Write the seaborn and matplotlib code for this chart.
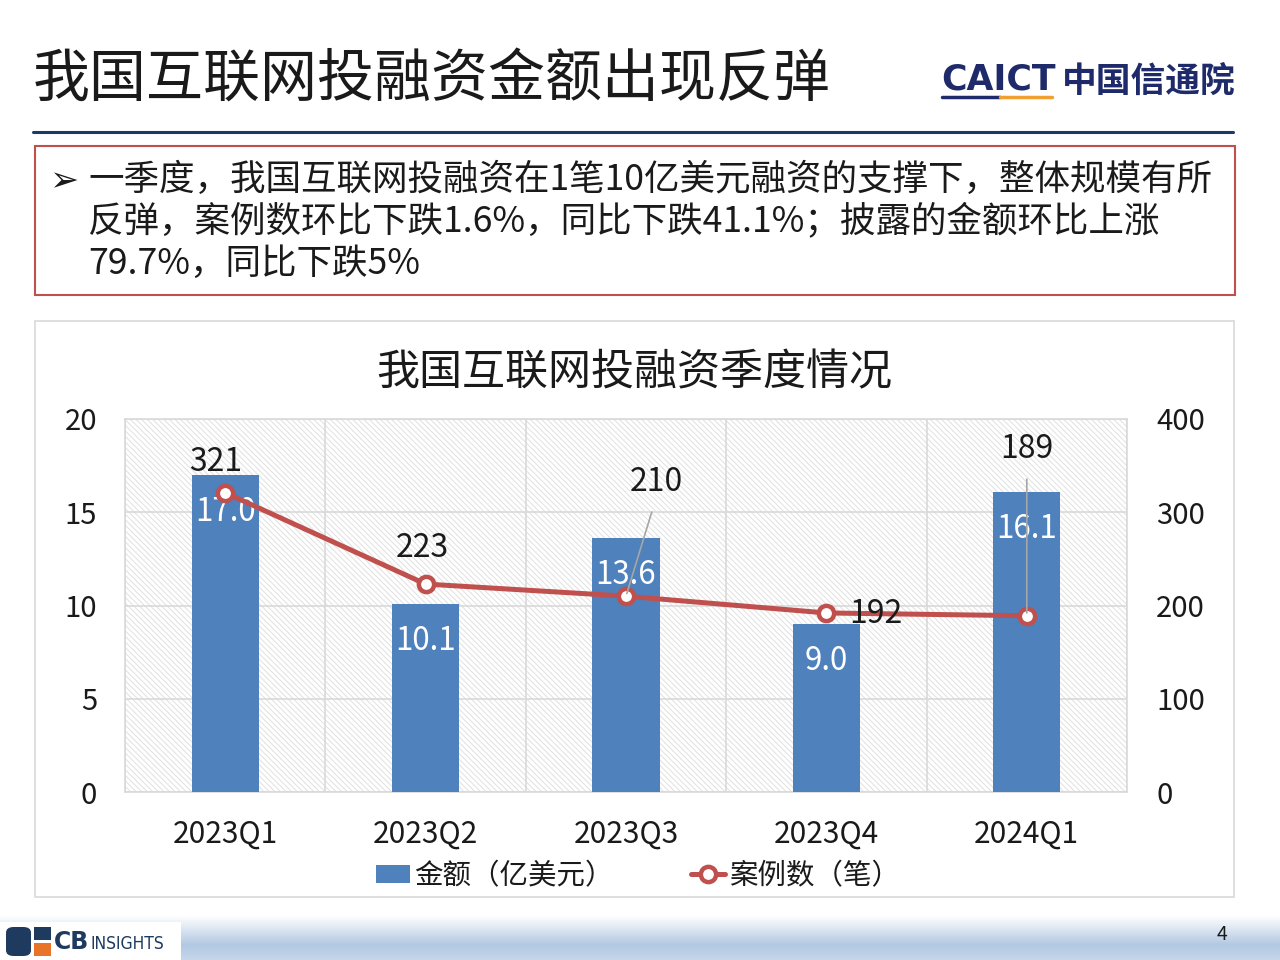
import numpy as np
import pandas as pd
import matplotlib
matplotlib.use('Agg')
import matplotlib.pyplot as plt
import seaborn as sns
from matplotlib.patches import Rectangle, FancyBboxPatch
from matplotlib.lines import Line2D
from matplotlib.colors import LinearSegmentedColormap

# ---------------- data ----------------
quarters = ['2023Q1', '2023Q2', '2023Q3', '2023Q4', '2024Q1']
amount = [17.0, 10.1, 13.6, 9.0, 16.1]          # 金额（亿美元）
deals = [321, 223, 210, 192, 189]               # 案例数（笔）
left_ticks = [0, 5, 10, 15, 20]
right_ticks = [0, 100, 200, 300, 400]

slide_title = '我国互联网投融资金额出现反弹'
chart_title = '我国互联网投融资季度情况'
bullet_lines = ['一季度，我国互联网投融资在1笔10亿美元融资的支撑下，整体规模有所',
                '反弹，案例数环比下跌1.6%，同比下跌41.1%；披露的金额环比上涨',
                '79.7%，同比下跌5%']
legend_labels = ['金额（亿美元）', '案例数（笔）']

BAR_C = '#4F81BD'
LINE_C = '#C0504D'
GRID_C = '#D9D9D9'

sns.set_theme(style='white')
plt.rcParams['font.family'] = ['Noto Sans CJK SC', 'DejaVu Sans']
plt.rcParams['hatch.linewidth'] = 0.7
plt.rcParams['hatch.color'] = '#E3E3E3'

W, H = 1280, 960
fig = plt.figure(figsize=(12.8, 9.6), dpi=100)
fig.patch.set_facecolor('white')


def fx(px):
    return px / W


def fy(py):
    return 1 - py / H


# ---------------- slide header ----------------
fig.text(fx(33), fy(80), slide_title, fontsize=41, ha='left', va='center', color='#1A1A1A')
fig.add_artist(Line2D([fx(33), fx(1233)], [fy(132), fy(132)], color='#1F3864', lw=2.2))

# CAICT logo
fig.text(fx(941), fy(80), 'CAICT', fontsize=25, fontweight='bold',
         ha='left', va='center', color='#1F2A6B', family=['DejaVu Sans'])
fig.add_artist(Line2D([fx(942), fx(1000)], [fy(97), fy(97)], color='#1F2A6B', lw=2.5))
fig.add_artist(Line2D([fx(1000), fx(1052)], [fy(97), fy(97)], color='#F0A030', lw=2.5))
fig.text(fx(1062), fy(81), '中国信通院', fontsize=25, fontweight='bold', ha='left', va='center',
         color='#1F2A6B')

# bullet box
fig.add_artist(Rectangle((fx(35), fy(295)), fx(1235) - fx(35), fy(146) - fy(295),
                         transform=fig.transFigure, facecolor='none', edgecolor=LINE_C, lw=1.5,
                         zorder=-1))
fig.text(fx(49), fy(181), '➢', fontsize=25, ha='left', va='center', color='#1A1A1A',
         family=['DejaVu Sans'])
for line, yy in zip(bullet_lines, [180, 221, 264]):
    fig.text(fx(88), fy(yy), line, fontsize=25.6, ha='left', va='center', color='#1A1A1A')

# chart frame
fig.add_artist(Rectangle((fx(35), fy(897)), fx(1234) - fx(35), fy(321) - fy(897),
                         transform=fig.transFigure, facecolor='none', edgecolor=GRID_C, lw=1.2,
                         zorder=-1))
fig.text(fx(634), fy(373), chart_title, fontsize=31, ha='center', va='center', color='#1A1A1A')

# ---------------- chart ----------------
ax = fig.add_axes([fx(125), fy(792), fx(1127) - fx(125), fy(419) - fy(792)])
ax.set_facecolor('white')
ax.add_patch(Rectangle((0, 0), 1, 1, transform=ax.transAxes, facecolor='white',
                       edgecolor='#E0E0E0', hatch='\\\\\\\\\\\\', lw=0, zorder=0))

df = pd.DataFrame({'quarter': quarters, 'amount': amount, 'deals': deals})
sns.barplot(data=df, x='quarter', y='amount', color=BAR_C, saturation=1, width=0.335,
            ax=ax, zorder=3, edgecolor='none')
ax.set_xlim(-0.5, 4.5)
ax.set_ylim(0, 20)
ax.set_yticks(left_ticks)
ax.set_yticklabels([str(t) for t in left_ticks])
ax.set_xlabel('')
ax.set_ylabel('')
for x in np.arange(-0.5, 5, 1.0):
    ax.axvline(x, color=GRID_C, lw=1.2, zorder=1)
for y in left_ticks:
    ax.axhline(y, color=GRID_C, lw=1.2, zorder=1)
for s in ax.spines.values():
    s.set_color(GRID_C)
    s.set_linewidth(1.2)
ax.tick_params(axis='both', length=0, colors='#1A1A1A')
ax.tick_params(axis='y', pad=20, labelsize=21)
ax.tick_params(axis='x', pad=19, labelsize=21.5)

# bar labels (white, inside top)
for i, v in enumerate(amount):
    ax.annotate(f'{v:.1f}', xy=(i, v), xytext=(0, -37), textcoords='offset pixels',
                ha='center', va='center', fontsize=22.5, color='white', zorder=6)

ax2 = ax.twinx()
ax2.set_ylim(0, 400)
sns.lineplot(data=df, x='quarter', y='deals', ax=ax2, color=LINE_C, lw=3.6, marker='o',
             markersize=11, markerfacecolor='white', markeredgecolor=LINE_C,
             markeredgewidth=3.2, zorder=5, sort=False)
ax2.set_xlim(-0.5, 4.5)
ax2.set_ylim(0, 400)
ax2.set_yticks(right_ticks)
ax2.set_yticklabels([str(t) for t in right_ticks])
ax2.set_xlabel('')
ax2.set_ylabel('')
for s in ax2.spines.values():
    s.set_visible(False)
ax2.tick_params(axis='y', length=0, labelsize=21, colors='#1A1A1A', pad=21)
ax2.grid(False)

# line labels
offsets = [(-9, 31), (-3, 36), (30, 114), (49, -1), (0, 167)]
leaders = [False, False, True, False, True]
for i, (v, off, ld) in enumerate(zip(deals, offsets, leaders)):
    kw = {}
    if ld:
        kw['arrowprops'] = dict(arrowstyle='-', color='#A6A6A6', lw=1.2,
                                shrinkA=8, shrinkB=2, relpos=(0.5, 0.0))
    ax2.annotate(str(v), xy=(i, v), xytext=off, textcoords='offset pixels',
                 ha='center', va='center', fontsize=23, color='#1A1A1A', zorder=7, **kw)

# legend
handles = [Rectangle((0, 0), 1, 1, facecolor=BAR_C, edgecolor='none'),
           Line2D([0], [0], color=LINE_C, lw=3.6, marker='o', markersize=11,
                  markerfacecolor='white', markeredgecolor=LINE_C, markeredgewidth=3.2)]
fig.legend(handles, legend_labels, loc='center', bbox_to_anchor=(fx(638), fy(876)), ncol=2,
           frameon=False, fontsize=20.5, handlelength=1.2, handleheight=0.6, handletextpad=0.15,
           columnspacing=2.7, labelcolor='#1A1A1A')

# ---------------- footer ----------------
fax = fig.add_axes([0, 0, 1, fy(915)])
grad = np.concatenate([np.linspace(0, 1, 30), np.linspace(1, 0.75, 15)])[:, None]
cmap = LinearSegmentedColormap.from_list('ft', ['#FFFFFF', '#B3C9E3'])
fax.imshow(np.repeat(grad, 10, axis=1), aspect='auto', cmap=cmap, extent=(0, 1, 0, 1),
           vmin=0, vmax=1)
fax.set_xlim(0, 1)
fax.set_ylim(0, 1)
fax.axis('off')
fax.add_patch(Rectangle((0, 0), 181 / W, 38 / 45, facecolor='white', edgecolor='none'))
# CB Insights logo
fig.add_artist(FancyBboxPatch((fx(6), fy(956)), fx(31) - fx(6), fy(927) - fy(956),
                              boxstyle='round,pad=0,rounding_size=0.006',
                              transform=fig.transFigure, facecolor='#1E3A5F', edgecolor='none'))
fig.add_artist(Rectangle((fx(34), fy(940)), fx(51) - fx(34), fy(927) - fy(940),
                         transform=fig.transFigure, facecolor='#1E3A5F', edgecolor='none'))
fig.add_artist(Rectangle((fx(34), fy(956)), fx(51) - fx(34), fy(943) - fy(956),
                         transform=fig.transFigure, facecolor='#E8742A', edgecolor='none'))
fig.text(fx(54), fy(942), 'CB', fontsize=17, fontweight='bold', ha='left', va='center',
         color='#1E3A5F', family=['DejaVu Sans'])
fig.text(fx(91), fy(944), 'INSIGHTS', fontsize=12.5, ha='left', va='center',
         color='#1E3A5F', family=['DejaVu Sans'], fontstretch='condensed')
fig.text(fx(1222), fy(935), '4', fontsize=14, ha='center', va='center', color='#1A1A1A')

fig.savefig('out.png', dpi=100, facecolor='white')
